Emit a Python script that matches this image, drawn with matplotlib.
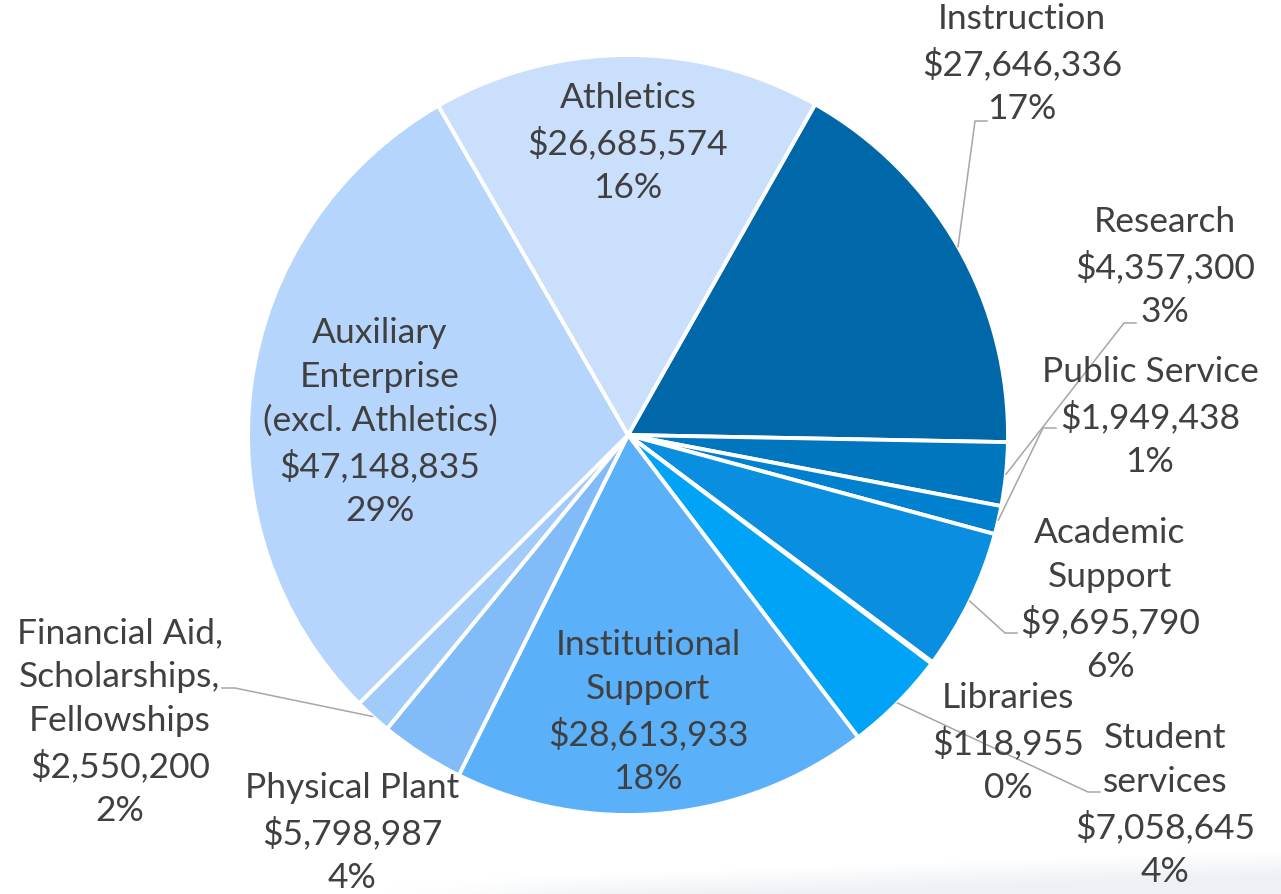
import numpy as np
import matplotlib.pyplot as plt

categories = ["Instruction", "Research", "Public Service", "Academic\nSupport",
              "Libraries", "Student\nservices", "Institutional\nSupport",
              "Physical Plant", "Financial Aid,\nScholarships,\nFellowships",
              "Auxiliary\nEnterprise\n(excl. Athletics)", "Athletics"]
values = [27646336, 4357300, 1949438, 9695790, 118955, 7058645,
          28613933, 5798987, 2550200, 47148835, 26685574]
pct_labels = [17, 3, 1, 6, 0, 4, 18, 4, 2, 29, 16]

colors = ["#0067A9", "#0076BF", "#0081D0", "#0A8EE0", "#0098EA", "#00A3F6",
          "#5BB0FA", "#81BCF9", "#A1CBFA", "#B6D5FC", "#CADFFC"]

# label block centres (x, y from top) and leader line elbow/end points
label_pos = [(1022, 64), (1165, 267), (1150, 417), (1110, 600), (1008, 743),
             (1165, 805), (648, 712), (352, 833), (120, 722), (380, 422),
             (628, 143)]
leaders = {0: [(975, 121), (987, 121)],
           1: [(1124, 323), (1136, 323)],
           2: [(1043, 428), (1056, 428)],
           3: [(1005, 633), (1017, 633)],
           5: [(1088, 792), (1100, 792)],
           8: [(235, 688), (222, 688)]}

W, H = 1281, 894
cx, cy, r = 628, H - 435, 380
text_color = "#404040"
plt.rcParams['font.family'] = ['Lato', 'DejaVu Sans']

fig = plt.figure(figsize=(W / 100, H / 100), dpi=100)
ax = fig.add_axes([0, 0, 1, 1])

# faint grey haze along the bottom edge
yy, xx = np.mgrid[0:60, 0:W]
edge = 880 - (xx - 420) / (W - 420) * 30
alpha = np.clip(((H - 60 + yy) - edge) / 25, 0, 1) * np.clip((xx - 380) / 200, 0, 1) * 0.55
haze = np.zeros((60, W, 4))
haze[..., 0], haze[..., 1], haze[..., 2] = 0.88, 0.90, 0.93
haze[..., 3] = alpha
ax.imshow(haze, extent=(0, W, 0, 60), origin="upper", zorder=0, interpolation="bilinear")

wedges, _ = ax.pie(values, colors=colors, startangle=60.5, counterclock=False,
                   center=(cx, cy), radius=r,
                   wedgeprops=dict(edgecolor="white", linewidth=2.8))

for i, (name, val, pct) in enumerate(zip(categories, values, pct_labels)):
    lx, ly = label_pos[i]
    ax.text(lx, H - ly, f"{name}\n${val:,.0f}\n{pct}%", ha="center", va="center",
            fontsize=25.5, color=text_color, linespacing=1.46, zorder=5)
    if i in leaders:
        w = wedges[i]
        mid = np.deg2rad((w.theta1 + w.theta2) / 2)
        pts = [(cx + r * np.cos(mid), cy + r * np.sin(mid))]
        pts += [(px, H - py) for px, py in leaders[i]]
        xs, ys = zip(*pts)
        ax.plot(xs, ys, color="#A6A6A6", lw=1.1, zorder=4)

ax.set_xlim(0, W)
ax.set_ylim(0, H)
ax.set_aspect("equal")
ax.axis("off")
fig.savefig("out.png", dpi=100, facecolor="white")
